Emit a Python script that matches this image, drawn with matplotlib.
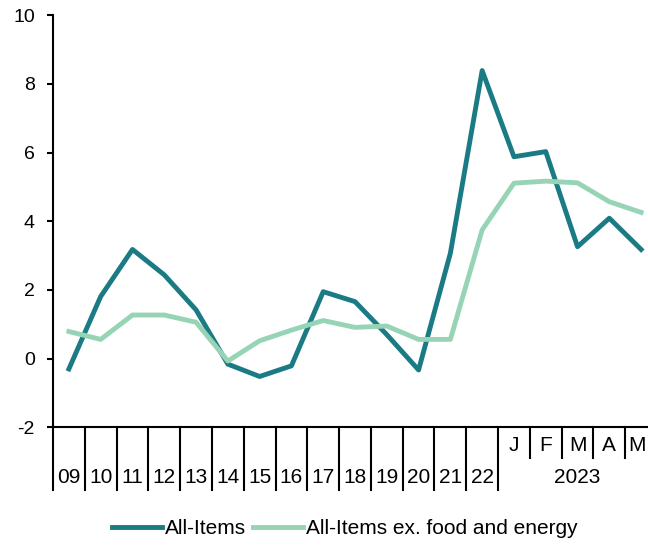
import matplotlib

matplotlib.use("Agg")
import matplotlib.pyplot as plt
import matplotlib.transforms as mtransforms

plt.rcParams["font.family"] = ["Liberation Sans", "DejaVu Sans"]
plt.rcParams["axes.unicode_minus"] = False

YEARS = ["09", "10", "11", "12", "13", "14", "15", "16", "17", "18", "19",
         "20", "21", "22"]
MONTHS = ["J", "F", "M", "A", "M"]
ALL_ITEMS = [-0.30, 1.81, 3.18, 2.44, 1.42, -0.16, -0.52, -0.21, 1.95, 1.66,
             0.70, -0.33, 3.07, 8.39, 5.88, 6.03, 3.26, 4.09, 3.18]
CORE = [0.79, 0.56, 1.27, 1.27, 1.06, -0.07, 0.52, 0.83, 1.11, 0.91, 0.95,
        0.56, 0.56, 3.75, 5.11, 5.17, 5.12, 4.57, 4.26]

DARK = "#1B7B85"
LIGHT = "#97D4B6"
FS = 15

fig = plt.figure(figsize=(6.48, 5.45), dpi=100)
ax = fig.add_axes([53 / 648, 1 - 427.3 / 545, 604 / 648, 412 / 545])

xs = list(range(len(ALL_ITEMS)))
ax.plot(xs, ALL_ITEMS, color=DARK, lw=3.5, label="All-Items")
ax.plot(xs, CORE, color=LIGHT, lw=3.5, label="All-Items ex. food and energy")

ax.set_xlim(-0.5, len(xs) - 0.5)
ax.set_ylim(-2, 10)
ax.set_yticks(range(-2, 11, 2))
ax.tick_params(axis="y", direction="out", length=4, width=1.5, labelsize=14, pad=9)
ax.set_xticks([])
for s in ("top", "right"):
    ax.spines[s].set_visible(False)
for s in ("left", "bottom"):
    ax.spines[s].set_linewidth(1.5)

# category separators and labels below the axis
trans = mtransforms.blended_transform_factory(ax.transData, ax.transAxes)
n_years = len(YEARS)
for i in range(len(xs)):
    x = i - 0.5
    low = -0.153 if i <= n_years else -0.075
    ax.plot([x, x], [0, low], color="black", lw=1.5, transform=trans, clip_on=False)
for i, lab in enumerate(YEARS):
    ax.text(i, -0.121, lab, transform=trans, ha="center", va="center", fontsize=FS)
for j, lab in enumerate(MONTHS):
    # last label sits at the figure edge; nudge it inside
    x = n_years + j - (0.12 if j == len(MONTHS) - 1 else 0)
    ax.text(x, -0.043, lab, transform=trans, ha="center", va="center", fontsize=FS)
ax.text(n_years + (len(MONTHS) - 1) / 2, -0.121, "2023", transform=trans,
        ha="center", va="center", fontsize=FS)

fig.legend(loc="center", bbox_to_anchor=(0.532, 1 - 529 / 545), ncol=2, frameon=False,
           fontsize=FS, handlelength=2.4, handletextpad=0.15, columnspacing=0.3)

fig.savefig("out.png", dpi=100)
